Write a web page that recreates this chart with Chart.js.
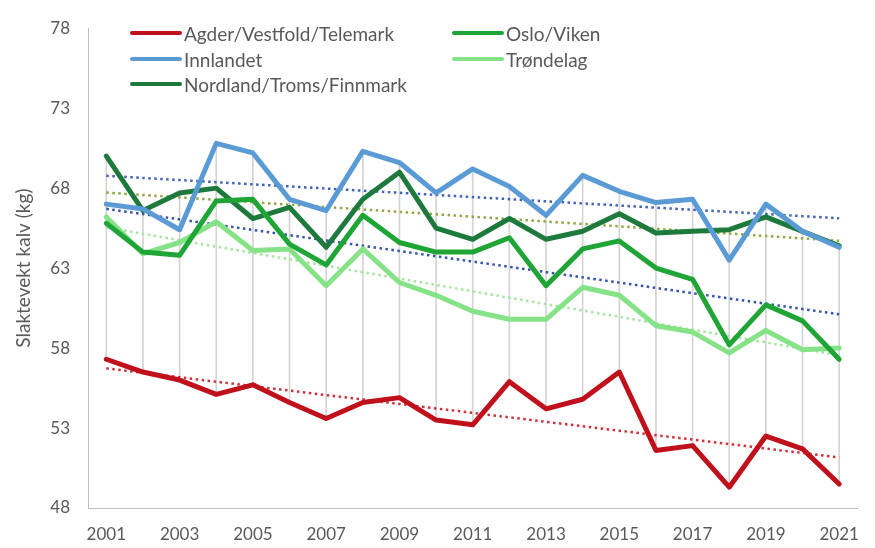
<!DOCTYPE html>
<html>
<head>
<meta charset="utf-8">
<script src="https://cdn.jsdelivr.net/npm/chart.js@4"></script>
<style>
  html, body { margin: 0; padding: 0; background: #ffffff; }
  #wrap { position: relative; width: 875px; height: 548px; }
  canvas { display: block; }
  .lg { position: absolute; display: flex; align-items: center; font-family: Lato, "Open Sans", sans-serif; font-size: 19px; color: #595959; white-space: nowrap; height: 22px; }
  .lg span.sw { display: inline-block; width: 52px; height: 4px; border-radius: 2px; margin-right: 2px; }
</style>
</head>
<body>
<div id="wrap">
  <canvas id="c" width="875" height="548"></canvas>
  <div id="legend"></div>
</div>
<script>
const years = ['2001','2002','2003','2004','2005','2006','2007','2008','2009','2010','2011','2012','2013','2014','2015','2016','2017','2018','2019','2020','2021'];
const xTickLabels = ['2001','2003','2005','2007','2009','2011','2013','2015','2017','2019','2021'];
const yTicks = [48, 53, 58, 63, 68, 73, 78];

const seriesNames = ['Agder/Vestfold/Telemark', 'Oslo/Viken', 'Innlandet', 'Trøndelag', 'Nordland/Troms/Finnmark'];

const agder     = [57.3, 56.5, 56.0, 55.1, 55.7, 54.6, 53.6, 54.6, 54.9, 53.5, 53.2, 55.9, 54.2, 54.8, 56.5, 51.6, 51.9, 49.3, 52.5, 51.7, 49.5];
const oslo      = [65.8, 64.0, 63.8, 67.2, 67.3, 64.5, 63.2, 66.3, 64.6, 64.0, 64.0, 64.9, 61.9, 64.2, 64.7, 63.0, 62.3, 58.2, 60.7, 59.7, 57.3];
const innlandet = [67.0, 66.7, 65.4, 70.8, 70.2, 67.3, 66.6, 70.3, 69.6, 67.7, 69.2, 68.1, 66.3, 68.8, 67.8, 67.1, 67.3, 63.5, 67.0, 65.3, 64.3];
const trondelag = [66.2, 63.9, 64.6, 65.9, 64.1, 64.2, 61.9, 64.2, 62.1, 61.3, 60.3, 59.8, 59.8, 61.8, 61.3, 59.4, 59.0, 57.7, 59.1, 57.9, 58.0];
const nordland  = [70.0, 66.6, 67.7, 68.0, 66.1, 66.8, 64.3, 67.3, 69.0, 65.5, 64.8, 66.1, 64.8, 65.3, 66.4, 65.2, 65.3, 65.4, 66.2, 65.3, 64.4];

const lineColors  = ['#c0101c', '#1fa535', '#5b9bd5', '#86e286', '#1e7a3c'];
const trendColors = ['#d0303c', '#3553a8', '#4262b8', '#a6e4a0', '#8fa848'];

// Linear trendline (least squares), as in the source chart's trendlines
function trend(vals) {
  const n = vals.length;
  let sx = 0, sy = 0, sxy = 0, sxx = 0;
  vals.forEach((v, i) => { sx += i; sy += v; sxy += i * v; sxx += i * i; });
  const b = (n * sxy - sx * sy) / (n * sxx - sx * sx);
  const a = (sy - b * sx) / n;
  return vals.map((v, i) => a + b * i);
}

const allSeries = [agder, oslo, innlandet, trondelag, nordland];
const hiLo = years.map((y, i) => {
  const vs = allSeries.map(s => s[i]);
  return [Math.min(...vs), Math.max(...vs)];
});

const datasets = [];
allSeries.forEach((s, k) => {
  datasets.push({
    type: 'line', label: seriesNames[k], data: s,
    borderColor: lineColors[k], backgroundColor: lineColors[k],
    borderWidth: 5, pointRadius: 0, tension: 0,
    borderJoinStyle: 'round', borderCapStyle: 'round', order: 1
  });
});
allSeries.forEach((s, k) => {
  datasets.push({
    type: 'line', label: seriesNames[k] + ' trend', data: trend(s),
    borderColor: trendColors[k], borderWidth: 2.5, borderDash: [2.5, 3.5],
    pointRadius: 0, tension: 0, order: 5
  });
});
datasets.push({
  type: 'bar', label: 'hilo', data: hiLo,
  backgroundColor: '#d4d4d4', barThickness: 1, order: 10
});

const FONT = 'Lato, "Open Sans", sans-serif';

new Chart(document.getElementById('c'), {
  data: { labels: years, datasets },
  options: {
    responsive: false,
    animation: false,
    layout: { padding: { top: 18, right: 5, left: 0, bottom: 0 } },
    plugins: { legend: { display: false }, tooltip: { enabled: false } },
    scales: {
      x: {
        offset: true,
        grid: { display: false, drawTicks: false },
        border: { display: true, color: '#bfbfbf', width: 1 },
        ticks: {
          color: '#595959', font: { family: FONT, size: 17 }, padding: 16,
          autoSkip: false, maxRotation: 0,
          callback: function(v, i) { const l = years[i]; return xTickLabels.includes(l) ? l : null; }
        },
        afterFit: s => { s.height = 40; }
      },
      y: {
        min: 48, max: 78,
        afterBuildTicks: s => { s.ticks = yTicks.map(v => ({ value: v })); },
        grid: { display: false, drawTicks: false },
        border: { display: true, color: '#bfbfbf', width: 1 },
        ticks: { color: '#595959', font: { family: FONT, size: 17 }, padding: 18 },
        title: { display: true, text: 'Slaktevekt kalv (kg)', color: '#595959', font: { family: FONT, size: 19 }, padding: { top: 12, bottom: 4 } },
        afterFit: s => { s.width = 88; }
      }
    }
  }
});

// Legend (two columns, inside top-left of the plot)
const legendItems = [
  { k: 0, x: 130, y: 22 },
  { k: 2, x: 130, y: 48 },
  { k: 4, x: 130, y: 73 },
  { k: 1, x: 452, y: 22 },
  { k: 3, x: 452, y: 48 }
];
const lg = document.getElementById('legend');
legendItems.forEach(it => {
  const d = document.createElement('div');
  d.className = 'lg';
  d.style.left = it.x + 'px';
  d.style.top = it.y + 'px';
  const sw = document.createElement('span');
  sw.className = 'sw';
  sw.style.background = lineColors[it.k];
  const t = document.createElement('span');
  t.textContent = seriesNames[it.k];
  d.appendChild(sw); d.appendChild(t);
  lg.appendChild(d);
});
</script>
</body>
</html>
